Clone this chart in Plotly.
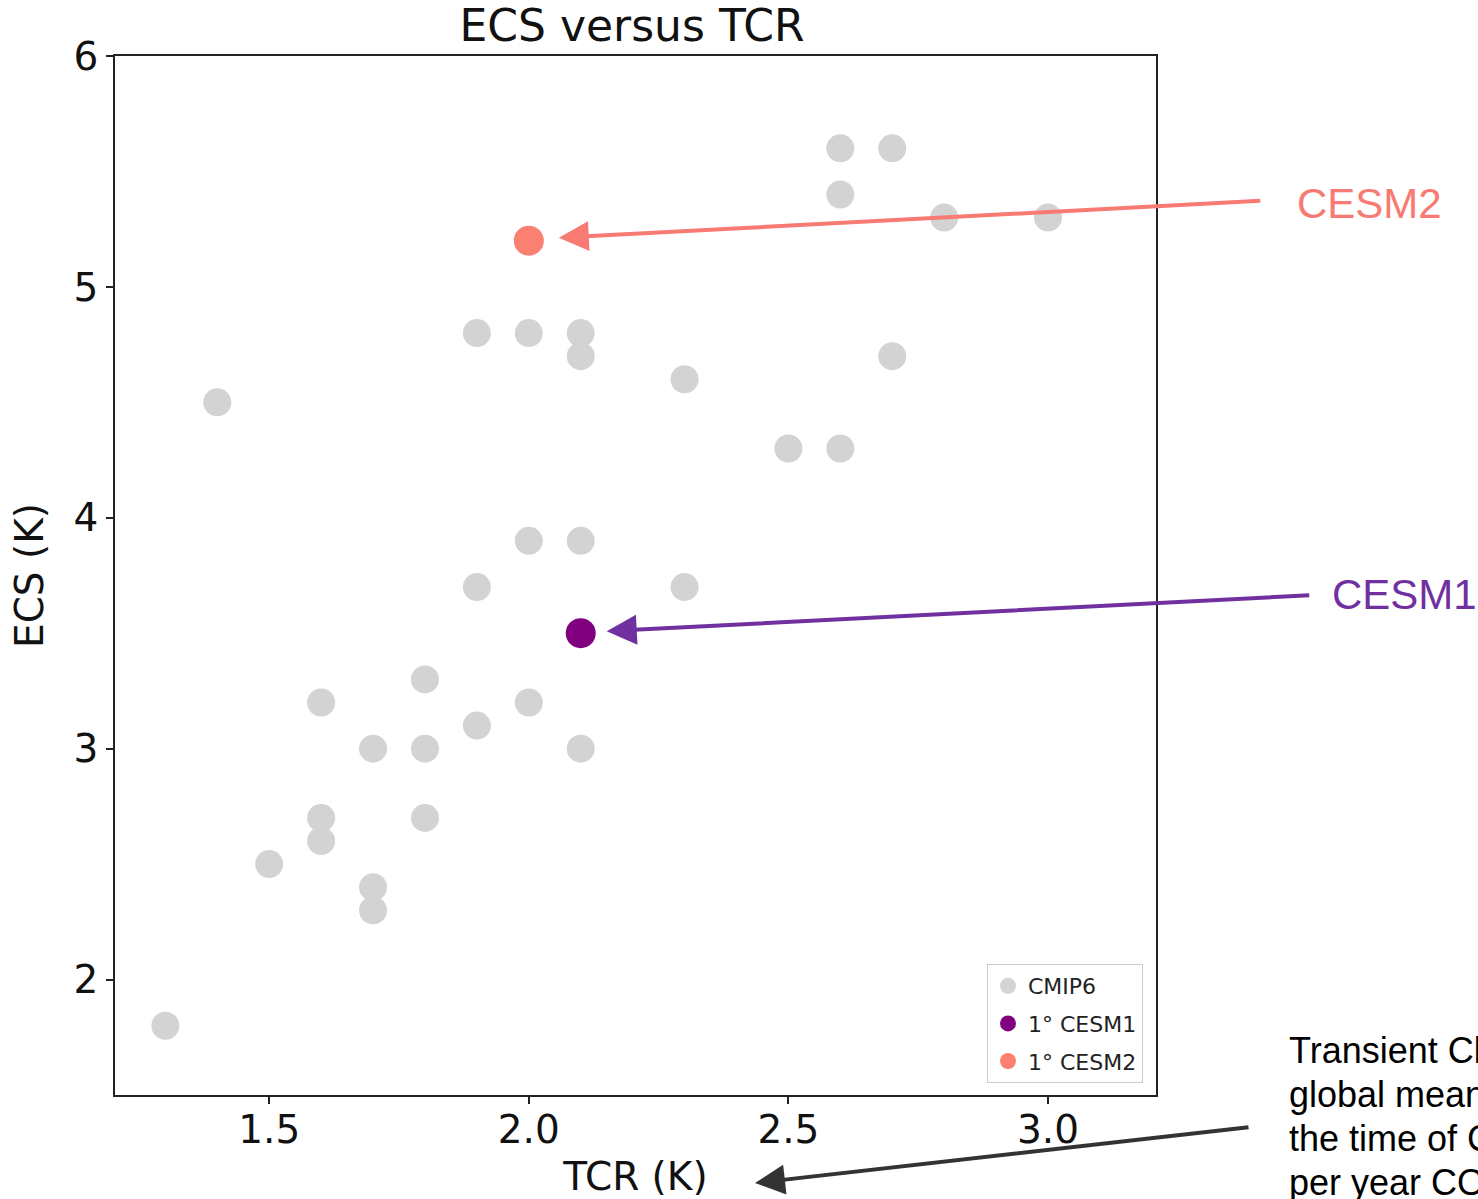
import plotly.graph_objects as go

# CMIP6 models (TCR, ECS)
cmip6_tcr = [2.6, 2.7, 2.6, 2.8, 3.0, 1.9, 2.0, 2.1, 2.1, 2.3, 2.7, 1.4, 2.5, 2.6,
             2.0, 2.1, 1.9, 2.3, 1.8, 1.6, 2.0, 1.9, 1.7, 1.8, 2.1, 1.6, 1.8, 1.6,
             1.5, 1.7, 1.7, 1.3]
cmip6_ecs = [5.6, 5.6, 5.4, 5.3, 5.3, 4.8, 4.8, 4.8, 4.7, 4.6, 4.7, 4.5, 4.3, 4.3,
             3.9, 3.9, 3.7, 3.7, 3.3, 3.2, 3.2, 3.1, 3.0, 3.0, 3.0, 2.7, 2.7, 2.6,
             2.5, 2.4, 2.3, 1.8]
cesm1_tcr = [2.1]
cesm1_ecs = [3.5]
cesm2_tcr = [2.0]
cesm2_ecs = [5.2]

x_ticks = [1.5, 2.0, 2.5, 3.0]
x_tick_labels = ["1.5", "2.0", "2.5", "3.0"]
y_ticks = [2, 3, 4, 5, 6]
y_tick_labels = ["2", "3", "4", "5", "6"]

note_lines = ["Transient Climate Response:",
              "global mean warming at",
              "the time of CO₂ doubling with 1%",
              "per year CO₂ increase"]

GRAY = "#d3d3d3"
PURPLE = "#800080"
SALMON = "#fa8072"
ARROW_SALMON = "#f77b72"
ARROW_PURPLE = "#7030a0"
FONT = "DejaVu Sans"

fig = go.Figure()
fig.add_trace(go.Scatter(x=cmip6_tcr, y=cmip6_ecs, mode="markers", name="CMIP6",
                         legendgroup="a", marker=dict(color=GRAY, size=28)))
fig.add_trace(go.Scatter(x=cesm1_tcr, y=cesm1_ecs, mode="markers", name="1° CESM1",
                         legendgroup="b", marker=dict(color=PURPLE, size=30)))
fig.add_trace(go.Scatter(x=cesm2_tcr, y=cesm2_ecs, mode="markers", name="1° CESM2",
                         legendgroup="c", marker=dict(color=SALMON, size=30)))

L, R, T, B = 115, 322, 56, 104
W, H = 1478, 1199
pw, ph = W - L - R, H - T - B

def px(xp):
    return (xp - L) / pw

def py(yp):
    return (H - B - yp) / ph

annotations = [
    dict(x=cesm2_tcr[0], y=cesm2_ecs[0], xref="x", yref="y", xshift=30, yshift=3,
         text="", showarrow=True, arrowhead=2, arrowsize=1.5, arrowwidth=4,
         arrowcolor=ARROW_SALMON, ax=703, ay=-37),
    dict(x=cesm1_tcr[0], y=cesm1_ecs[0], xref="x", yref="y", xshift=26, yshift=2,
         text="", showarrow=True, arrowhead=2, arrowsize=1.5, arrowwidth=4,
         arrowcolor=ARROW_PURPLE, ax=704, ay=-36),
    dict(x=px(755), y=py(1183), xref="paper", yref="paper", text="", showarrow=True,
         arrowhead=2, arrowsize=1.5, arrowwidth=4, arrowcolor="#333333", ax=495, ay=-56),
    dict(x=px(1295), y=py(203), xref="paper", yref="paper", text="CESM2", showarrow=False,
         xanchor="left", yanchor="middle",
         font=dict(family="Liberation Sans, Arial", size=42, color=ARROW_SALMON)),
    dict(x=px(1330), y=py(594), xref="paper", yref="paper", text="CESM1", showarrow=False,
         xanchor="left", yanchor="middle",
         font=dict(family="Liberation Sans, Arial", size=42, color=ARROW_PURPLE)),
]
for i, line in enumerate(note_lines):
    annotations.append(dict(x=px(1287), y=py(1050 + 44 * i), xref="paper", yref="paper",
                            text=line, showarrow=False, xanchor="left", yanchor="middle",
                            font=dict(family="Liberation Sans, Arial", size=36, color="black")))

axis_common = dict(showline=True, linecolor="#222222", linewidth=1.5, mirror=True,
                   ticks="outside", ticklen=7, tickwidth=1.5, tickcolor="#222222",
                   showgrid=False, zeroline=False, automargin=False,
                   tickfont=dict(family=FONT, size=39, color="#111111"))

fig.update_layout(
    width=W, height=H,
    margin=dict(l=L, r=R, t=T, b=B, autoexpand=False),
    paper_bgcolor="white", plot_bgcolor="white",
    title=dict(text="ECS versus TCR", x=(632) / W, xanchor="center", y=1 - 26 / H,
               yanchor="middle", font=dict(family=FONT, size=44, color="#111111")),
    xaxis=dict(range=[1.203, 3.208], tickvals=x_ticks, ticktext=x_tick_labels,
               ticklabelstandoff=-8,
               title=dict(text="TCR (K)", font=dict(family=FONT, size=39, color="#111111"),
                          standoff=13),
               **axis_common),
    yaxis=dict(range=[1.5, 6.0], tickvals=y_ticks, ticktext=y_tick_labels,
               title=dict(text="ECS (K)", font=dict(family=FONT, size=39, color="#111111"),
                          standoff=18),
               **axis_common),
    legend=dict(x=px(1143), y=py(1083), xanchor="right", yanchor="bottom",
                bordercolor="#cccccc", borderwidth=1, bgcolor="rgba(255,255,255,0.8)",
                font=dict(family=FONT, size=22, color="#222222"), itemsizing="trace",
                tracegroupgap=6, traceorder="grouped"),
    showlegend=True,
    annotations=annotations,
)

fig.write_html("out.html")
